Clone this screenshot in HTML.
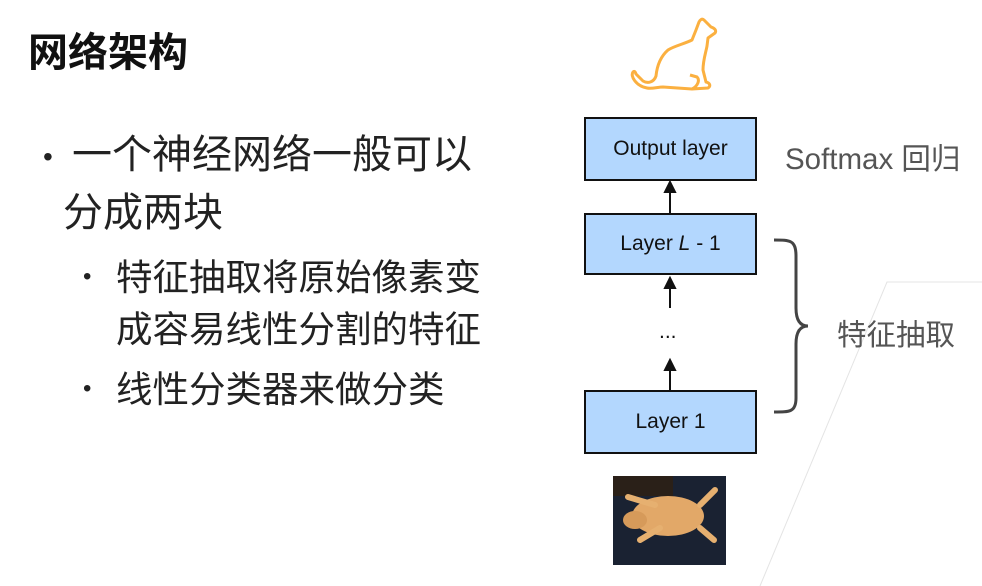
<!DOCTYPE html>
<html><head><meta charset="utf-8"><style>
body{margin:0;width:982px;height:586px;background:#fff;position:relative;overflow:hidden;font-family:"Liberation Sans","Noto Sans CJK SC",sans-serif}
.t{position:absolute;white-space:nowrap;color:#222}
.box{position:absolute;left:584px;width:169px;background:#b3d7fe;border:2px solid #111;display:flex;align-items:center;justify-content:center;font-size:21px;color:#111}
</style></head><body>
<svg width="982" height="586" style="position:absolute;left:0;top:0">
<polyline points="982,282 887,282 760,586" fill="none" stroke="#e4e4e4" stroke-width="1"/>
<path d="M633,72 C630,76 636,86 647,88 C652,89 658,87 663,87 L692,89 L708,88 C711,86 710,83 706,82 L703,70 C703,60 706,52 707,46 L708,38 L715,33 C717,30 714,28 711,27 L704,20 C702,18 700,20 699,22 L696,30 L692,40 C684,44 674,46 668,50 C660,57 657,66 656,76 C654,82 648,84 643,81 L636,74 C635,71 634,71 633,72 Z M692,89 C698,86 700,80 697,77 L690,75" fill="none" stroke="#fbb040" stroke-width="3" stroke-linejoin="round"/>
<g stroke="#111" stroke-width="2" fill="#111">
<line x1="670" y1="213" x2="670" y2="188"/><polygon points="670,182 665,192 675,192"/>
<line x1="670" y1="308" x2="670" y2="284"/><polygon points="670,278 665,288 675,288"/>
<line x1="670" y1="390" x2="670" y2="366"/><polygon points="670,360 665,370 675,370"/>
</g>
<path d="M774,240 C790,240 796,240 796,256 L796,308 C796,320 800,326 808,326 C800,326 796,332 796,344 L796,398 C796,412 790,412 774,412" fill="none" stroke="#444" stroke-width="3"/>
<rect x="613" y="476" width="113" height="89" fill="#1a2232"/>
<rect x="613" y="476" width="60" height="20" fill="#2a2018"/>
<ellipse cx="668" cy="516" rx="36" ry="20" fill="#e2a868"/>
<ellipse cx="635" cy="520" rx="12" ry="9" fill="#d69a5a"/>
<path d="M628,497 L655,505 M640,540 L660,528 M700,505 L715,490 M700,528 L714,540" stroke="#e6b070" stroke-width="6" stroke-linecap="round"/>
</svg>
<div class="t" style="left:28px;top:20px;font-size:40px;font-weight:bold;color:#111">网络架构</div>
<div class="t" style="left:43px;top:133px;font-size:28px;line-height:48px">•</div>
<div class="t" style="left:72px;top:131px;font-size:40px;line-height:48px">一个神经网络一般可以</div>
<div class="t" style="left:63px;top:189px;font-size:40px;line-height:48px">分成两块</div>
<div class="t" style="left:83px;top:257px;font-size:24px;line-height:40px">•</div>
<div class="t" style="left:116px;top:257px;font-size:36.5px;line-height:42px">特征抽取将原始像素变</div>
<div class="t" style="left:116px;top:309px;font-size:36.5px;line-height:42px">成容易线性分割的特征</div>
<div class="t" style="left:83px;top:369px;font-size:24px;line-height:40px">•</div>
<div class="t" style="left:116px;top:369px;font-size:36.5px;line-height:42px">线性分类器来做分类</div>
<div class="box" style="top:117px;height:60px">Output layer</div>
<div class="box" style="top:213px;height:58px">Layer&nbsp;<i>L</i>&nbsp;- 1</div>
<div class="box" style="top:390px;height:60px">Layer 1</div>
<div class="t" style="left:659px;top:320px;font-size:21px;color:#111">...</div>
<div class="t" style="left:785px;top:136px;font-size:29.5px;color:#555">Softmax 回归</div>
<div class="t" style="left:837px;top:312px;font-size:29.5px;color:#555">特征抽取</div>
</body></html>
